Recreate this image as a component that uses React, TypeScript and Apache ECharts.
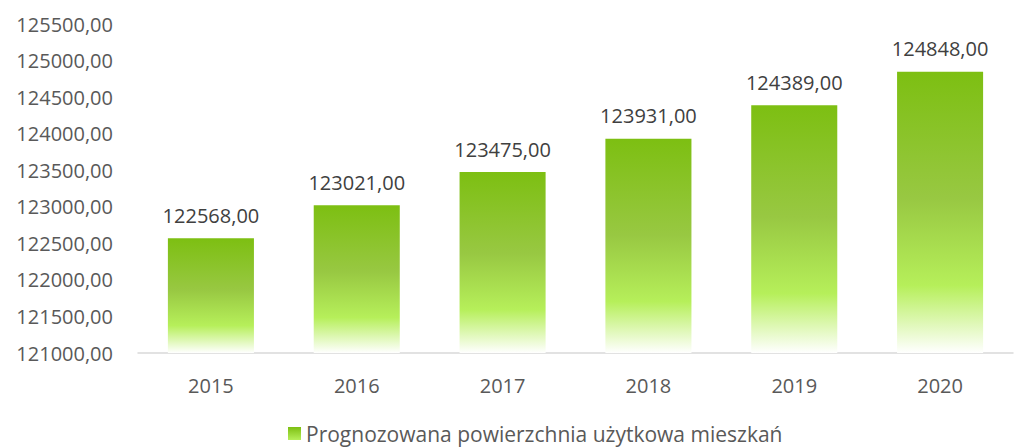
import React, { useEffect, useRef } from "react";
import * as echarts from "echarts";

const categories = ["2015", "2016", "2017", "2018", "2019", "2020"];
const values = [122568, 123021, 123475, 123931, 124389, 124848];
const seriesName = "Prognozowana powierzchnia użytkowa mieszkań";
const yMin = 121000;
const yMax = 125500;
const yStep = 500;

const fmt = (v: number) => v.toFixed(2).replace(".", ",");
const FONT = "'Open Sans', 'Noto Sans', sans-serif";
const FS = 20;

export default function App() {
  const ref = useRef<HTMLDivElement>(null);
  useEffect(() => {
    document.body.style.margin = "0";
    if (!ref.current) return;
    const chart = echarts.init(ref.current, null, { renderer: "svg" });
    const grad = new echarts.graphic.LinearGradient(0, 0, 0, 1, [
      { offset: 0, color: "#7dbf12" },
      { offset: 0.45, color: "#98c842" },
      { offset: 0.76, color: "#b6ef5a" },
      { offset: 1, color: "#ffffff" },
    ]);
    const legendGrad = new echarts.graphic.LinearGradient(0, 0, 0, 1, [
      { offset: 0, color: "#7dbf12" },
      { offset: 1, color: "#b6ef5a" },
    ]);
    chart.setOption({
      animation: false,
      grid: { left: 138, right: 4, top: 24, bottom: 95, containLabel: false },
      legend: {
        top: 418,
        left: 283,
        itemWidth: 13,
        itemHeight: 13,
        itemGap: 5,
        icon: "rect",
        textStyle: { color: "#595959", fontSize: 21, fontFamily: FONT },
        data: [{ name: seriesName, itemStyle: { color: legendGrad } }],
      },
      xAxis: {
        type: "category",
        data: categories,
        axisLine: { lineStyle: { color: "#d9d9d9", width: 1.5 } },
        axisTick: { show: false },
        axisLabel: { color: "#595959", fontSize: FS, fontFamily: FONT, margin: 22 },
      },
      yAxis: {
        type: "value",
        min: yMin,
        max: yMax,
        interval: yStep,
        axisLine: { show: false },
        axisTick: { show: false },
        splitLine: { show: false },
        axisLabel: {
          color: "#595959",
          fontSize: FS,
          fontFamily: FONT,
          margin: 25,
          formatter: (v: number) => fmt(v),
        },
      },
      series: [
        {
          name: seriesName,
          type: "bar",
          data: values,
          barWidth: "59%",
          itemStyle: { color: grad },
          label: {
            show: true,
            position: "top",
            distance: 13,
            color: "#404040",
            fontSize: FS,
            fontFamily: FONT,
            formatter: (p: any) => fmt(p.value),
          },
        },
      ],
    });
    return () => chart.dispose();
  }, []);
  return <div ref={ref} style={{ width: 1017, height: 448 }} />;
}
